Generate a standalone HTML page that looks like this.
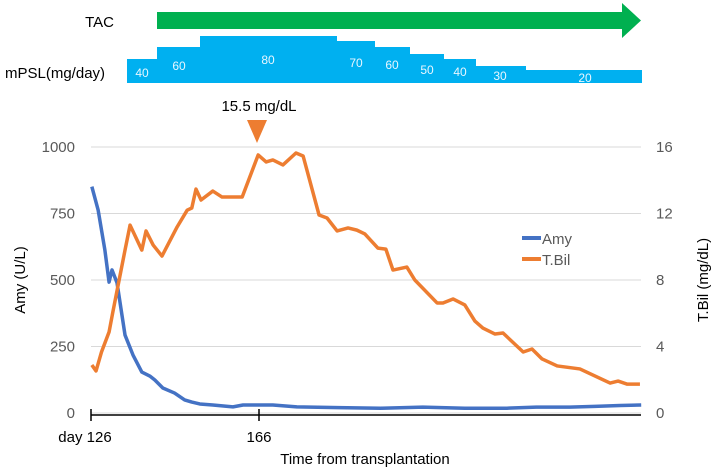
<!DOCTYPE html>
<html><head><meta charset="utf-8"><style>
html,body{margin:0;padding:0;background:#fff;}
svg{display:block;font-family:"Liberation Sans",sans-serif;}
</style></head><body>
<svg id="c" width="711" height="474" viewBox="0 0 711 474">
<g id="top">
 <text x="114" y="27" font-size="15" text-anchor="end" fill="#000">TAC</text>
 <polygon points="157,12 622,12 622,3 641,20.5 622,38 622,29 157,29" fill="#00b050"/>
 <text x="5" y="78" font-size="15" fill="#000">mPSL(mg/day)</text>
 <polygon points="127,83 127,59 157,59 157,47 200,47 200,36 337,36 337,41 375,41 375,47 410,47 410,54 444,54 444,59 476,59 476,66 526,66 526,70 642,70 642,83" fill="#00b0f0"/>
 <g font-size="12" fill="#e8f6ff" text-anchor="middle">
  <text x="142" y="77">40</text><text x="179" y="70">60</text><text x="268" y="64">80</text>
  <text x="356" y="67">70</text><text x="392" y="69">60</text><text x="427" y="74">50</text>
  <text x="460" y="76">40</text><text x="500" y="80">30</text><text x="585" y="82">20</text>
 </g>
 <text x="259" y="111" font-size="15" text-anchor="middle" fill="#000">15.5 mg/dL</text>
 <polygon points="247,120 267,120 257,143" fill="#ed7d31"/>
</g>
<g id="grid"></g>
<g id="axes"></g>
<g id="series"></g>
<text transform="translate(25,280) rotate(-90)" font-size="15" text-anchor="middle" fill="#000">Amy (U/L)</text>
<text transform="translate(708,280) rotate(-90)" font-size="15" text-anchor="middle" fill="#000">T.Bil (mg/dL)</text>
<text x="365" y="464" font-size="15" text-anchor="middle" fill="#000">Time from transplantation</text>
<g>
 <line x1="522" y1="238" x2="541" y2="238" stroke="#4472c4" stroke-width="4"/>
 <text x="542" y="244" font-size="15" fill="#595959">Amy</text>
 <line x1="522" y1="259" x2="541" y2="259" stroke="#ed7d31" stroke-width="4"/>
 <text x="542" y="265" font-size="15" fill="#595959">T.Bil</text>
</g>
</svg>
<script>
const amyDays=[126.2,127.7,129.3,130.3,131.0,132.2,134.1,136.0,138.1,140.0,141.2,143.1,145.9,148.3,150.0,151.9,155.0,159.8,162.2,169.3,175.0,185,195,205,215,225,232,240,246,252,257];
const amyValues=[851,763,613,492,538,489,293,218,154,139,124,94,75,49,41,34,30,23,30,30,23,20,18,22,18,18,22,22,25,28,30];
const tbilDays=[126.2,127.2,128.5,130.3,131.2,132.7,134.1,135.3,138.1,139.1,140.8,142.9,146.5,148.9,150.0,151.0,152.2,155.0,157.2,162.0,165.8,167.7,169.3,171.7,174.8,176.5,180.3,182.2,184.6,187.2,189.3,191.2,194.3,196.2,197.9,201.2,203.1,208.4,209.8,212.2,215.0,217.4,219.3,222.2,224.1,228.9,231.0,233.4,237.0,242.4,249.6,251.5,253.6,256.7];
const tbilValues=[2.89,2.53,3.67,4.87,6.07,8.0,9.8,11.3,9.8,10.95,10.1,9.44,11.19,12.2,12.33,13.47,12.81,13.35,12.99,12.99,15.52,15.1,15.22,14.92,15.64,15.46,11.91,11.73,10.95,11.13,11.0,10.77,9.92,9.86,8.6,8.78,8.0,6.62,6.62,6.86,6.5,5.53,5.11,4.75,4.81,3.67,3.85,3.25,2.83,2.65,1.8,1.92,1.74,1.74];
const leftTicks=[0,250,500,750,1000];
const rightTicks=[0,4,8,12,16];
const xTickDays=[126,166];
const xTickLabels=["day 126","166"];
const NS="http://www.w3.org/2000/svg";
const X0=91,PXD=4.2,Y0=413,H=266,XR=641;
const xs=d=>X0+(d-126)*PXD;
const yL=v=>Y0-v/1000*H;
const yR=v=>Y0-v/16*H;
function mk(tag,attrs,parent){const e=document.createElementNS(NS,tag);for(const k in attrs)e.setAttribute(k,attrs[k]);parent.appendChild(e);return e;}
const grid=document.getElementById('grid'),axes=document.getElementById('axes'),series=document.getElementById('series');
leftTicks.forEach((v,i)=>{
 const l=mk('line',{x1:X0,x2:XR,y1:yL(v),y2:yL(v),stroke:'#d9d9d9','stroke-width':1},grid);
 
 
 const t=mk('text',{x:75,y:yL(v)+5,'font-size':15,'text-anchor':'end',fill:'#595959'},axes);
 t.textContent=v;
 
 
});
rightTicks.forEach(v=>{
 const t=mk('text',{x:656,y:yR(v)+5,'font-size':15,fill:'#595959'},axes);
 t.textContent=v;
 
 
});
const ax=mk('line',{x1:X0,x2:XR,y1:415,y2:415,stroke:'#000','stroke-width':1.5},axes);


xTickDays.forEach((d,i)=>{
 const tk=mk('line',{x1:xs(d),x2:xs(d),y1:409,y2:421,stroke:'#000','stroke-width':1.5},axes);
 
 
 const t=mk('text',{x:i==0?xs(d)-6:xs(d),y:442,'font-size':15,'text-anchor':'middle',fill:'#000'},axes);
 t.textContent=xTickLabels[i];
 
 
});
const pa=mk('polyline',{points:amyDays.map((d,i)=>xs(d)+','+yL(amyValues[i])).join(' '),fill:'none',stroke:'#4472c4','stroke-width':3.5,'stroke-linejoin':'round'},series);


const pt=mk('polyline',{points:tbilDays.map((d,i)=>xs(d)+','+yR(tbilValues[i])).join(' '),fill:'none',stroke:'#ed7d31','stroke-width':3.5,'stroke-linejoin':'round'},series);


</script>
</body></html>
